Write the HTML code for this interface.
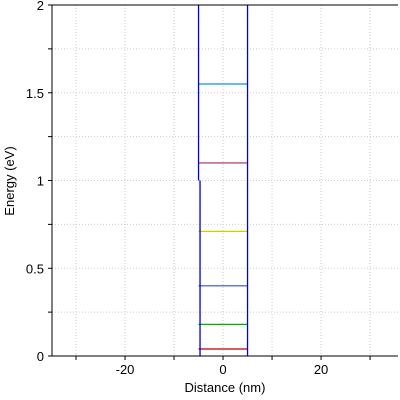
<!DOCTYPE html>
<html><head><meta charset="utf-8"><style>
body{margin:0;background:#fff}
svg{display:block;font-family:"Liberation Sans",sans-serif}
</style></head><body>
<svg id="c" width="400" height="400"></svg>
<script>
const xTicks=[-30,-20,-10,0,10,20,30];
const xLabels=["","-20","","0","","20",""];
const yTicks=[0,0.25,0.5,0.75,1,1.25,1.5,1.75,2];
const yLabels=["0","","0.5","","1","","1.5","","2"];
const wellX=[-5,5];
const levels=[0.04,0.18,0.40,0.71,1.10,1.55];
const levelColors=["#b00000","#00b000","#3050d0","#d0d000","#b0206a","#0099dd"];
const L=52,R=398,T=5,B=356,XMIN=-34.9,XMAX=35.7,YMIN=0,YMAX=2;
const sx=v=>L+(v-XMIN)/(XMAX-XMIN)*(R-L);
const sy=v=>B-(v-YMIN)/(YMAX-YMIN)*(B-T);
const svg=document.getElementById('c');
const NS='http://www.w3.org/2000/svg';
function mk(t,a){const e=document.createElementNS(NS,t);for(const k in a)e.setAttribute(k,a[k]);svg.appendChild(e);return e;}
xTicks.forEach((v,i)=>{
 const g=mk('line',{x1:sx(v),x2:sx(v),y1:T,y2:B,stroke:'#ccc','stroke-dasharray':'1,2'});
 
 
 const t=mk('line',{x1:sx(v),x2:sx(v),y1:B,y2:B+4,stroke:'#000'});
 
 
 if(xLabels[i]){const l=mk('text',{x:sx(v),y:B+18,'text-anchor':'middle','font-size':'13'});l.textContent=xLabels[i];
 
 }
});
yTicks.forEach((v,i)=>{
 const g=mk('line',{x1:L,x2:R,y1:sy(v),y2:sy(v),stroke:'#ccc','stroke-dasharray':'1,2'});
 
 
 const t=mk('line',{x1:L-4,x2:L,y1:sy(v),y2:sy(v),stroke:'#000'});
 
 
 if(yLabels[i]){const l=mk('text',{x:L-8,y:sy(v)+5,'text-anchor':'end','font-size':'13'});l.textContent=yLabels[i];
 
 }
});
levels.forEach((v,i)=>{
 const e=mk('line',{x1:sx(wellX[0]),x2:sx(wellX[1]),y1:sy(v),y2:sy(v),stroke:levelColors[i],'stroke-width':1.2});
 
 
});
const w1=mk('line',{x1:sx(wellX[0]),x2:sx(wellX[0]),y1:sy(YMAX),y2:sy(1),stroke:'#0000dd','stroke-width':1.3});


const w2=mk('line',{x1:sx(wellX[0])+1.5,x2:sx(wellX[0])+1.5,y1:sy(1),y2:sy(0),stroke:'#0000cc','stroke-width':1.3});


const w3=mk('line',{x1:sx(wellX[1]),x2:sx(wellX[1]),y1:sy(YMAX),y2:sy(0),stroke:'#0000dd','stroke-width':1.3});


const ax=mk('path',{d:`M${L},${T} V${B} H${R}`,fill:'none',stroke:'#000'});


const tp=mk('line',{x1:L,x2:R,y1:T,y2:T,stroke:'#000'});


const xt=mk('text',{x:225,y:392,'text-anchor':'middle','font-size':'13'});xt.textContent='Distance (nm)';


const yt=mk('text',{x:14,y:181,'text-anchor':'middle','font-size':'13',transform:'rotate(-90 14 181)'});yt.textContent='Energy (eV)';


</script>
</body></html>
